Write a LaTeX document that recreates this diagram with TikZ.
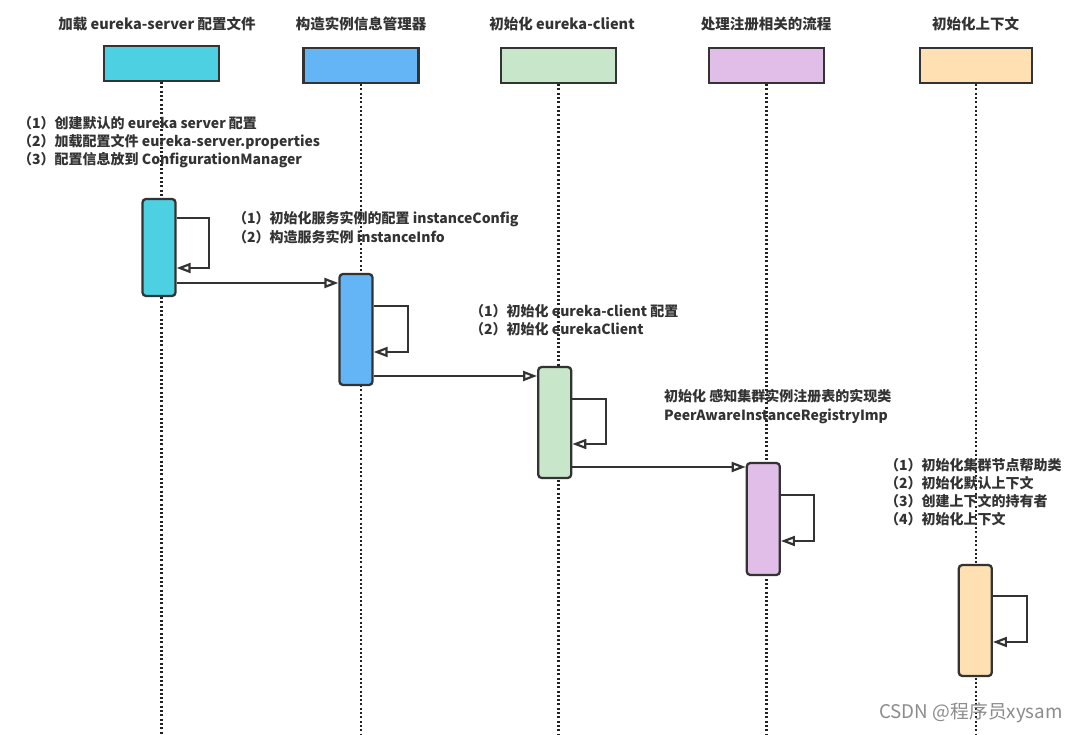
\documentclass[tikz,border=0pt]{standalone}
\usepackage{fontspec}
\setmainfont{Noto Sans CJK SC}
\usetikzlibrary{arrows.meta}
\definecolor{c1}{HTML}{4DD0E1}
\definecolor{c2}{HTML}{64B5F6}
\definecolor{c3}{HTML}{C8E6C9}
\definecolor{c4}{HTML}{E1BEE7}
\definecolor{c5}{HTML}{FFE0B2}
\definecolor{ink}{HTML}{333333}
\definecolor{dots}{HTML}{222222}
\definecolor{wm}{HTML}{8C8C8C}
\tikzset{
  headbox/.style={draw=ink, line width=2.4pt, minimum width=115pt, minimum height=35pt, inner sep=0pt},
  title/.style={font=\bfseries\fontsize{14.5}{18}\selectfont, text=ink, inner sep=0pt},
  actbox/.style={draw=ink, line width=2.3pt, rounded corners=3.5pt, minimum width=33pt, inner sep=0pt},
  life/.style={draw=dots, line width=2.2pt, dash pattern=on 2pt off 2.3pt},
  msg/.style={draw=ink, line width=2.2pt, -{Triangle[open, length=14pt, width=10pt, line width=2.2pt]}},
  note/.style={font=\bfseries\fontsize{14}{18}\selectfont, text=ink, align=left, inner sep=0pt, anchor=west},
}
\begin{document}
\begin{tikzpicture}[x=1pt, y=-1pt]
\fill[white] (0,0) rectangle (1080,735);
\useasboundingbox (0,0) rectangle (1080,735);

% titles
\node[title] (t1) at (157,24) {加载 eureka-server 配置文件};
\node[title] (t2) at (361,24) {构造实例信息管理器};
\node[title] (t3) at (562,24) {初始化 eureka-client};
\node[title] (t4) at (766,24) {处理注册相关的流程};
\node[title] (t5) at (975.5,24) {初始化上下文};

% header boxes
\node[headbox, fill=c1] (h1) at (161.5,63.5) {};
\node[headbox, fill=c2] (h2) at (361,65.5) {};
\node[headbox, fill=c3] (h3) at (558.5,65.5) {};
\node[headbox, fill=c4] (h4) at (766.5,65.5) {};
\node[headbox, fill=c5, minimum width=112pt] (h5) at (976,65.5) {};

% lifelines
\coordinate (e1) at (h1.south |- 0,735);
\coordinate (e2) at (h2.south |- 0,735);
\coordinate (e3) at (h3.south |- 0,735);
\coordinate (e4) at (h4.south |- 0,735);
\coordinate (e5) at (h5.south |- 0,735);
\draw[life] (h1.south) -- (e1);
\draw[life] (h2.south) -- (e2);
\draw[life] (h3.south) -- (e3);
\draw[life] (h4.south) -- (e4);
\draw[life] (h5.south) -- (e5);

% notes
\node[note] (n1) at (18,142) {（1）创建默认的 eureka server 配置\\（2）加载配置文件 eureka-server.properties\\（3）配置信息放到 ConfigurationManager};
\node[note, font=\bfseries\fontsize{14}{19}\selectfont] (n2) at (233,227.5) {（1）初始化服务实例的配置 instanceConfig\\（2）构造服务实例 instanceInfo};
\node[note] (n3) at (470,320) {（1）初始化 eureka-client 配置\\（2）初始化 eurekaClient};
\node[note, font=\bfseries\fontsize{14}{19}\selectfont] (n4) at (664,406.5) {初始化 感知集群实例注册表的实现类\\PeerAwareInstanceRegistryImp};
\node[note] (n5) at (885,492) {（1）初始化集群节点帮助类\\（2）初始化默认上下文\\（3）创建上下文的持有者\\（4）初始化上下文};

% activations
\node[actbox, fill=c1, minimum height=97pt] (a1) at (159,247.5) {};
\node[actbox, fill=c2, minimum height=111pt] (a2) at (356,329.5) {};
\node[actbox, fill=c3, minimum height=111pt] (a3) at (554.7,422.5) {};
\node[actbox, fill=c4, minimum height=112pt] (a4) at (763.3,519) {};
\node[actbox, fill=c5, minimum height=111pt] (a5) at (975.3,620.5) {};

% self calls
\draw[msg] (a1.east |- 0,218) -- ++(32,0) |- (a1.east |- 0,268);
\draw[msg] (a2.east |- 0,306) -- ++(34,0) |- (a2.east |- 0,352);
\draw[msg] (a3.east |- 0,399) -- ++(34,0) |- (a3.east |- 0,444);
\draw[msg] (a4.east |- 0,495) -- ++(33,0) |- (a4.east |- 0,541);
\draw[msg] (a5.east |- 0,596) -- ++(34,0) |- (a5.east |- 0,642);

% messages
\draw[msg] (a1.east |- 0,283) -- (a2.west |- 0,283);
\draw[msg] (a2.east |- 0,376) -- (a3.west |- 0,376);
\draw[msg] (a3.east |- 0,467) -- (a4.west |- 0,467);

% watermark
\node[font=\fontsize{18.8}{22}\selectfont, text=wm, inner sep=0pt, anchor=west] (wmk) at (879,713) {CSDN @程序员xysam};
\end{tikzpicture}
\end{document}
